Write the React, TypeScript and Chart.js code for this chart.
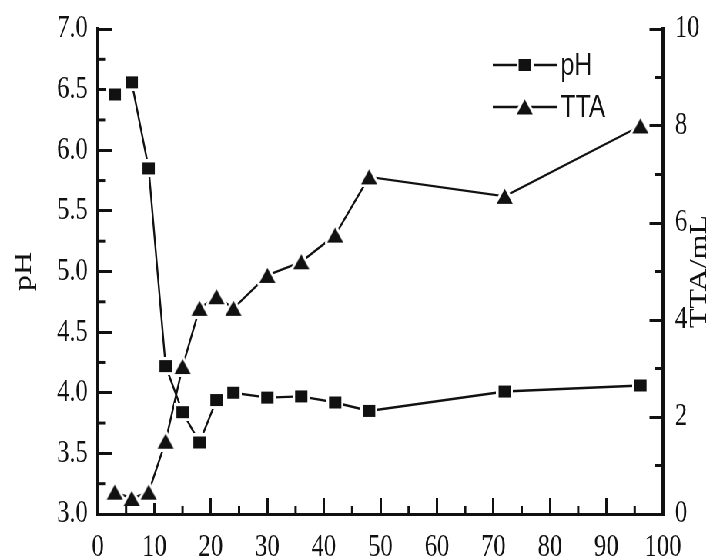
import React, { useEffect, useRef } from "react";
import { Chart, registerables } from "chart.js";

Chart.register(...registerables);

// ---- data ----
const hours = [3, 6, 9, 12, 15, 18, 21, 24, 30, 36, 42, 48, 72, 96];
const phValues = [6.46, 6.56, 5.85, 4.22, 3.84, 3.59, 3.94, 4.0, 3.96, 3.97, 3.92, 3.85, 4.01, 4.06];
const ttaValues = [0.45, 0.32, 0.45, 1.5, 3.04, 4.24, 4.48, 4.24, 4.92, 5.2, 5.75, 6.95, 6.55, 8.0];
const seriesNames = ["pH", "TTA"];
const leftTitle = "pH";
const rightTitle = "TTA/mL";
const xMinorTicks = [5, 15, 25, 35, 45, 55, 65, 75, 85, 95];
const phMinorTicks = [3.25, 3.75, 4.25, 4.75, 5.25, 5.75, 6.25, 6.75];
const ttaMinorTicks = [1, 3, 5, 7, 9];

// ---- layout (internal canvas is drawn wide, then squeezed horizontally) ----
const SX = 0.77;
const W = Math.round(713 / SX);
const H = 560;
const INK = "#111";
const SERIF = "'Liberation Serif', 'Times New Roman', serif";
const SANS = "'Liberation Sans', Arial, sans-serif";

function makeMarker(kind: "rect" | "triangle"): HTMLCanvasElement {
  const c = document.createElement("canvas");
  const pad = 3;
  if (kind === "rect") {
    const w = 16, h = 12;
    c.width = w + pad * 2;
    c.height = h + pad * 2;
    const g = c.getContext("2d")!;
    g.fillStyle = "#fff";
    g.fillRect(0, 0, c.width, c.height);
    g.fillStyle = INK;
    g.fillRect(pad, pad, w, h);
  } else {
    const w = 21, h = 15;
    c.width = w + pad * 2;
    c.height = h + pad * 2;
    const g = c.getContext("2d")!;
    g.beginPath();
    g.moveTo(pad + w / 2, pad);
    g.lineTo(pad + w, pad + h);
    g.lineTo(pad, pad + h);
    g.closePath();
    g.lineJoin = "round";
    g.lineWidth = pad * 2;
    g.strokeStyle = "#fff";
    g.stroke();
    g.fillStyle = INK;
    g.fill();
  }
  return c;
}

export default function App() {
  const ref = useRef<HTMLCanvasElement | null>(null);

  useEffect(() => {
    if (!ref.current) return;
    const rectMarker = makeMarker("rect");
    const triMarker = makeMarker("triangle");
    const markers = [rectMarker, triMarker];

    const tickFont = { family: SERIF, size: 32, lineHeight: 1.2 };

    const minorTicksPlugin = {
      id: "minorTicks",
      afterDraw(chart: any) {
        const ctx = chart.ctx;
        const a = chart.chartArea;
        ctx.save();
        ctx.strokeStyle = INK;
        ctx.lineWidth = 3;
        const sx = chart.scales.x;
        xMinorTicks.forEach((v) => {
          const p = sx.getPixelForValue(v);
          ctx.beginPath();
          ctx.moveTo(p, a.bottom);
          ctx.lineTo(p, a.bottom - 8);
          ctx.stroke();
        });
        const sy = chart.scales.y;
        phMinorTicks.forEach((v) => {
          const p = sy.getPixelForValue(v);
          ctx.beginPath();
          ctx.moveTo(a.left, p);
          ctx.lineTo(a.left + 10.5, p);
          ctx.stroke();
        });
        const sy1 = chart.scales.y1;
        ttaMinorTicks.forEach((v) => {
          const p = sy1.getPixelForValue(v);
          ctx.beginPath();
          ctx.moveTo(a.right, p);
          ctx.lineTo(a.right - 10.5, p);
          ctx.stroke();
        });
        ctx.restore();
      },
    };

    const rightTitlePlugin = {
      id: "rightTitle",
      afterDraw(chart: any) {
        const ctx = chart.ctx;
        const a = chart.chartArea;
        ctx.save();
        ctx.translate(a.right + 48, (a.top + a.bottom) / 2);
        ctx.rotate(-Math.PI / 2);
        ctx.font = `32px ${SERIF}`;
        ctx.fillStyle = INK;
        ctx.textAlign = "center";
        ctx.textBaseline = "middle";
        ctx.fillText(rightTitle, 0, 0);
        ctx.restore();
      },
    };

    const legendPlugin = {
      id: "customLegend",
      afterDraw(chart: any) {
        const ctx = chart.ctx;
        const a = chart.chartArea;
        const x1 = a.right - 221;
        const x2 = a.right - 138;
        const tx = a.right - 133;
        const rows = [a.top + 36, a.top + 78];
        ctx.save();
        seriesNames.forEach((name, i) => {
          const y = rows[i];
          ctx.strokeStyle = INK;
          ctx.lineWidth = 2.4;
          ctx.beginPath();
          ctx.moveTo(x1, y);
          ctx.lineTo(x2, y);
          ctx.stroke();
          const m = markers[i];
          const cx = (x1 + x2) / 2;
          ctx.drawImage(m, cx - m.width / 2, y - m.height / 2);
          ctx.fillStyle = INK;
          ctx.font = `32px ${SANS}`;
          ctx.textAlign = "left";
          ctx.textBaseline = "middle";
          ctx.fillText(name, tx, y + 1);
        });
        ctx.restore();
      },
    };

    const noPadY = (width: number) => (s: any) => {
      s.width = width;
      s.paddingTop = 0;
      s.paddingBottom = 0;
    };

    const chart = new Chart(ref.current, {
      type: "line",
      data: {
        datasets: [
          {
            label: seriesNames[0],
            data: hours.map((h, i) => ({ x: h, y: phValues[i] })),
            yAxisID: "y",
            borderColor: INK,
            borderWidth: 2.4,
            tension: 0,
            pointStyle: rectMarker as any,
            pointRadius: 8,
            fill: false,
          },
          {
            label: seriesNames[1],
            data: hours.map((h, i) => ({ x: h, y: ttaValues[i] })),
            yAxisID: "y1",
            borderColor: INK,
            borderWidth: 2.4,
            tension: 0,
            pointStyle: triMarker as any,
            pointRadius: 9,
            fill: false,
          },
        ],
      },
      options: {
        responsive: false,
        animation: false,
        devicePixelRatio: 1,
        layout: { padding: { top: 29, left: 0, right: 0, bottom: 0 } },
        plugins: {
          legend: { display: false },
          tooltip: { enabled: false },
        },
        scales: {
          x: {
            type: "linear",
            position: "bottom",
            min: 0,
            max: 100,
            ticks: {
              stepSize: 10,
              font: tickFont,
              color: INK,
              padding: 30,
              maxRotation: 0,
              autoSkip: false,
            },
            grid: {
              drawOnChartArea: false,
              drawTicks: true,
              tickLength: -16,
              tickWidth: 3,
              tickColor: INK,
            },
            border: { display: true, color: INK, width: 3 },
            afterFit: (s: any) => {
              s.height = 46;
              s.paddingLeft = 0;
              s.paddingRight = 0;
            },
          },
          y: {
            type: "linear",
            position: "left",
            min: 3,
            max: 7,
            ticks: {
              stepSize: 0.5,
              font: tickFont,
              color: INK,
              padding: 31,
              callback: (v: any) => Number(v).toFixed(1),
            },
            grid: {
              drawOnChartArea: false,
              drawTicks: true,
              tickLength: -18,
              tickWidth: 3,
              tickColor: INK,
            },
            border: { display: true, color: INK, width: 4 },
            title: {
              display: true,
              text: leftTitle,
              color: INK,
              font: { family: SERIF, size: 32, lineHeight: 1.2 },
              padding: { top: 12, bottom: 0 },
            },
            afterFit: noPadY(127),
          },
          y1: {
            type: "linear",
            position: "right",
            min: 0,
            max: 10,
            ticks: {
              stepSize: 2,
              font: tickFont,
              color: INK,
              padding: 33,
            },
            grid: {
              drawOnChartArea: false,
              drawTicks: true,
              tickLength: -17.5,
              tickWidth: 3,
              tickColor: INK,
            },
            border: { display: true, color: INK, width: 4 },
            afterFit: noPadY(W - 861),
          },
        },
      } as any,
      plugins: [minorTicksPlugin, rightTitlePlugin, legendPlugin],
    });

    return () => chart.destroy();
  }, []);

  return (
    <div
      style={{
        position: "fixed",
        left: 0,
        top: 0,
        width: W,
        height: H,
        background: "#fff",
        transform: `scaleX(${SX})`,
        transformOrigin: "0 0",
      }}
    >
      <canvas ref={ref} width={W} height={H} style={{ display: "block" }} />
    </div>
  );
}
